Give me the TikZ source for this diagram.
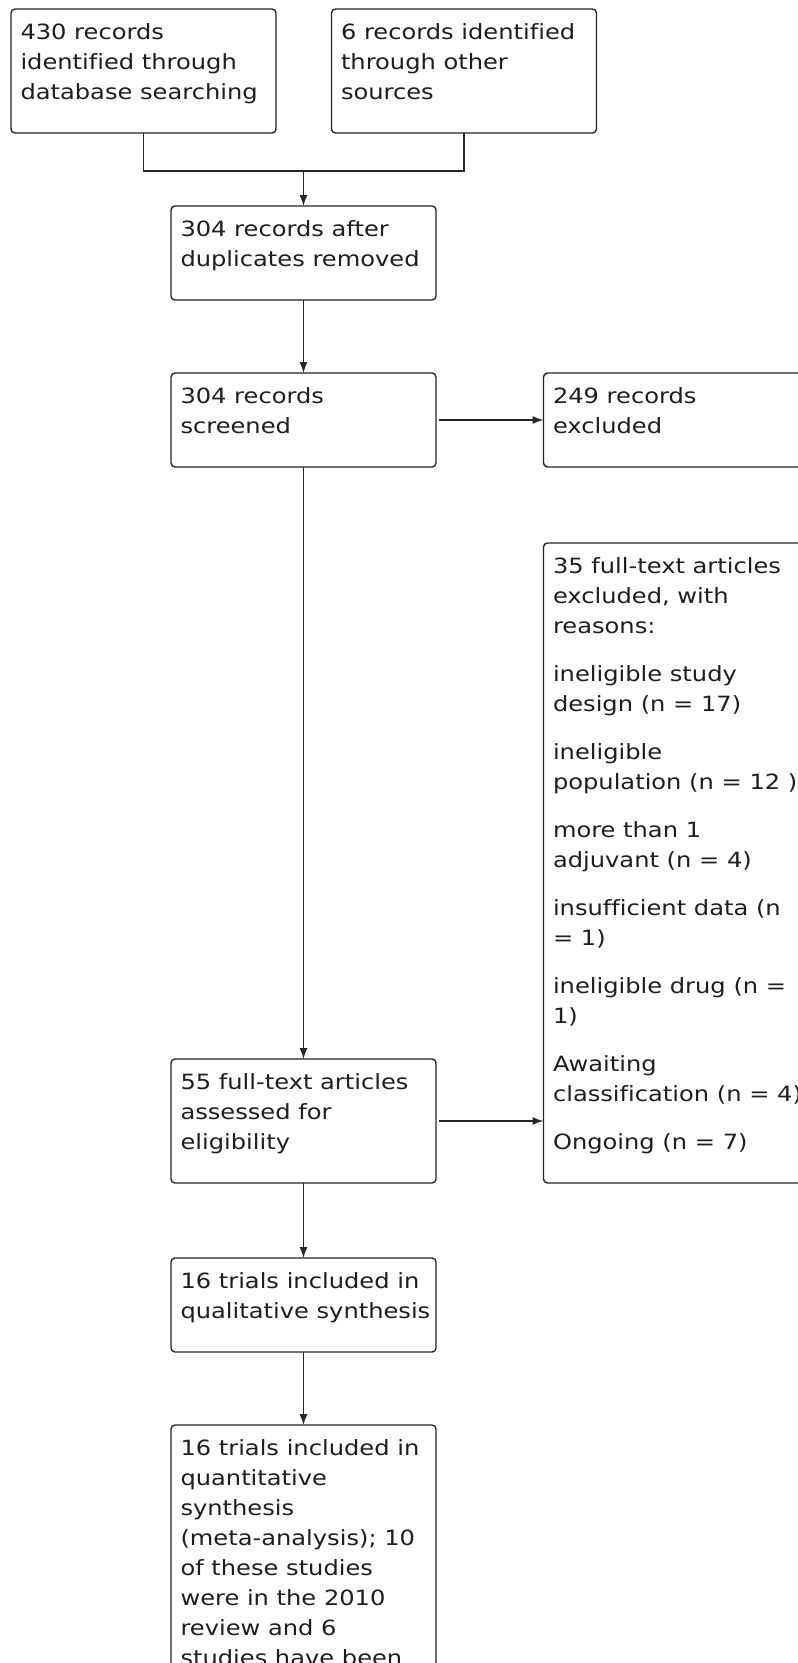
\documentclass[tikz,border=0pt]{standalone}
\usepackage{fontspec}
\setmainfont{DejaVu Sans}[FakeStretch=1.15, Ligatures={NoCommon}]
\usetikzlibrary{arrows.meta,calc}
\definecolor{lc}{HTML}{262626}
\definecolor{tc}{HTML}{1E1E1E}
\newcommand{\boxtext}[1]{\parbox[t]{300pt}{\raggedright #1}}
\tikzset{
  box/.style={draw=lc, line width=1.4pt, rounded corners=4pt, anchor=north west,
    minimum width=265pt, inner sep=0pt, outer sep=0pt},
  txt/.style={anchor=base west, inner sep=0pt, outer sep=0pt, text=tc,
    font=\fontsize{21}{30}\selectfont},
  con/.style={draw=lc, line width=1.4pt},
  arr/.style={draw=lc, line width=1.4pt, -{Latex[length=11pt,width=8pt]}},
}
\begin{document}
\begin{tikzpicture}[x=1pt,y=-1pt]
\useasboundingbox (0,0) rectangle (798,1663);
\clip (0,0) rectangle (798,1663);
\fill[white] (0,0) rectangle (798,1663);

% boxes
\node[box, minimum height=124pt] (b1) at (11,9) {};
\node[box, minimum height=124pt] (b2) at (331.5,9) {};
\node[box, minimum height=94pt] (b3) at (171,206) {};
\node[box, minimum height=94pt] (b4) at (171,373) {};
\node[box, minimum height=94pt] (b5) at (543.5,373) {};
\node[box, minimum height=640pt] (b6) at (543.5,543) {};
\node[box, minimum height=124pt] (b7) at (171,1059) {};
\node[box, minimum height=94pt] (b8) at (171,1258) {};
\node[box, minimum height=300pt] (b9) at (171,1425) {};

% texts
\node[txt] (t1) at ([shift={(9.5,30)}]b1.north west) {\boxtext{430 records\\identified through\\database searching}};
\node[txt] (t2) at ([shift={(9.5,30)}]b2.north west) {\boxtext{6 records identified\\through other\\sources}};
\node[txt] (t3) at ([shift={(9.5,30)}]b3.north west) {\boxtext{304 records after\\duplicates removed}};
\node[txt] (t4) at ([shift={(9.5,30)}]b4.north west) {\boxtext{304 records\\screened}};
\node[txt] (t5) at ([shift={(9.5,30)}]b5.north west) {\boxtext{249 records\\excluded}};
\node[txt] (t6) at ([shift={(9.5,30)}]b6.north west) {\boxtext{35 full-text articles\\excluded, with\\reasons:\\[18pt]
ineligible study\\design (n = 17)\\[18pt]
ineligible\\population (n = 12 )\\[18pt]
more than 1\\adjuvant (n = 4)\\[18pt]
insufficient data (n\\= 1)\\[18pt]
ineligible drug (n =\\1)\\[18pt]
Awaiting\\classification (n = 4)\\[18pt]
Ongoing (n = 7)}};
\node[txt] (t7) at ([shift={(9.5,30)}]b7.north west) {\boxtext{55 full-text articles\\assessed for\\eligibility}};
\node[txt] (t8) at ([shift={(9.5,30)}]b8.north west) {\boxtext{16 trials included in\\qualitative synthesis}};
\node[txt] (t9) at ([shift={(9.5,30)}]b9.north west) {\boxtext{16 trials included in\\quantitative\\synthesis\\(meta-analysis); 10\\of these studies\\were in the 2010\\review and 6\\studies have been}};

% connectors
\coordinate (j) at (303.5,171);
\draw[con] (b1.south) |- (j);
\draw[con] (b2.south) |- (j);
\draw[arr] (j) -- (b3.north);
\draw[arr] (b3.south) -- (b4.north);
\draw[arr, shorten <=3pt] (b4.east) -- (b5.west);
\draw[arr] (b4.south) -- (b7.north);
\draw[arr, shorten <=3pt] (b7.east) -- (b7.east -| b6.west);
\draw[arr] (b7.south) -- (b8.north);
\draw[arr] (b8.south) -- (b9.north);
\end{tikzpicture}
\end{document}
